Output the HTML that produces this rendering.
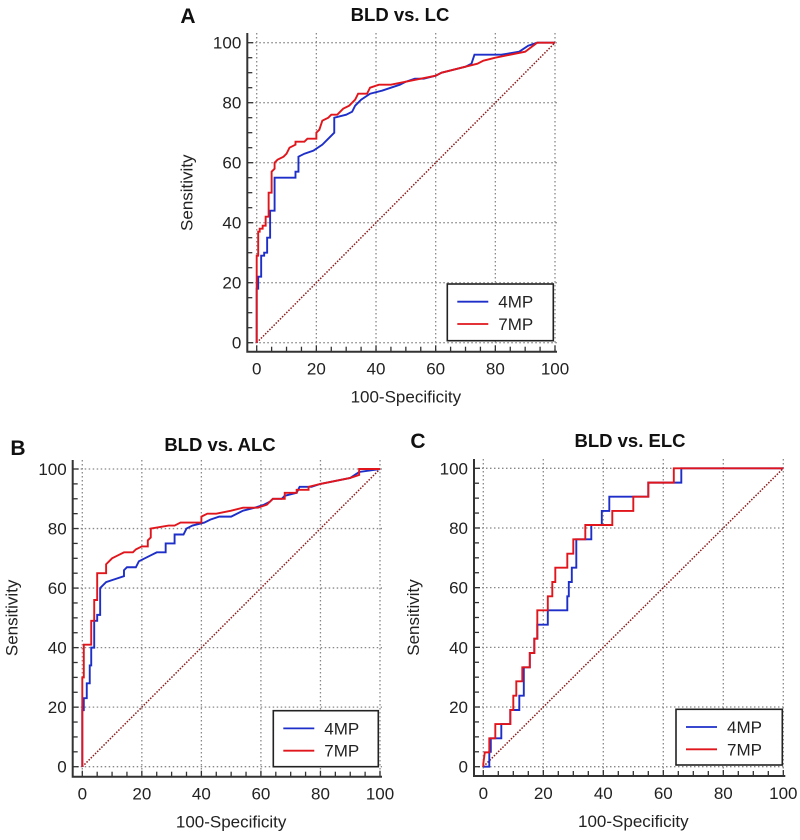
<!DOCTYPE html>
<html><head><meta charset="utf-8"><style>
body{margin:0;background:#fff;}
svg{display:block;font-family:"Liberation Sans",sans-serif;}
</style></head><body>
<svg id="fig" width="800" height="840" viewBox="0 0 800 840"></svg>
<script>
const ticks=[0,20,40,60,80,100];
const tickLabels=["0","20","40","60","80","100"];
const seriesNames=["4MP","7MP"];
const aBlue=[[0,0],[0,18],[0.5,18],[0.5,22],[1.5,22],[1.5,29],[2.5,29],[2.5,30],[3.5,30],[3.5,35],[4.5,35],[4.5,44],[6,44],[6,55],[13,55],[13,57],[14,57],[14,62],[16,63],[19,64],[22,66],[24,68],[26,70],[26,75],[30,76],[32,77],[33,79],[35,81],[38,83],[42,84],[45,85],[48,86],[50,87],[53,88],[56,88],[60,89],[62,90],[66,91],[70,92],[72,93],[73,96],[78,96],[82,96],[88,97],[91,99],[94,100],[100,100]];
const aRed=[[0,0],[0,29],[0.5,29],[0.5,37],[1,37],[1,38],[2,38],[2,39],[3,39],[3,42],[4,42],[4,50],[5,50],[5,57],[6,58],[6,60],[7,61],[9,62],[10,63],[11,65],[13,66],[13,67],[16,67],[17,68],[20,68],[20,70],[21,71],[22,74],[24,75],[25,76],[27,76],[29,78],[31,79],[33,81],[34,83],[37,83],[38,85],[41,86],[45,86],[50,87],[55,88],[60,89],[62,90],[66,91],[70,92],[74,93],[76,94],[80,95],[85,96],[90,97],[94,100],[100,100]];
const bBlue=[[0,0],[0,19],[0.5,19],[0.5,23],[1.5,23],[1.5,28],[2.5,28],[2.5,34],[3,34],[3,40],[4,40],[4,49],[5,49],[5,51],[6,51],[6,60],[7,61],[8,62],[11,63],[14,64],[14,66],[15,67],[18,67],[19,69],[21,70],[23,71],[25,72],[28,72],[28,75],[31,75],[31,78],[34,78],[35,80],[37,81],[41,82],[43,83],[46,84],[50,84],[54,86],[58,87],[61,88],[63,89],[64,90],[67,90],[68,91],[72,92],[73,94],[77,94],[80,95],[85,96],[90,97],[93,99],[100,100]];
const bRed=[[0,0],[0,30],[0.5,30],[0.5,41],[3,41],[3,49],[4,49],[4,56],[5,56],[5,65],[8,65],[8,68],[9,69],[10,70],[12,71],[14,72],[17,72],[18,73],[20,74],[22,74],[22,76],[23,77],[23,80],[29,81],[31,81],[33,82],[40,82],[40,84],[42,85],[45,85],[50,86],[54,87],[59,87],[62,88],[64,90],[68,90],[68,92],[72,92],[72,93],[76,93],[76,94],[80,95],[85,96],[90,97],[93,98],[93,100],[100,100]];
const cBlue=[[0,0],[2,0],[2,5],[2.5,5],[2.5,9.5],[6,9.5],[6,14.3],[9,14.3],[9,19],[12,19],[12,23.8],[13.5,23.8],[13.5,28.6],[13.5,33.3],[15.5,33.3],[15.5,38.1],[17,38.1],[17,42.9],[18,42.9],[18,47.6],[21.5,47.6],[21.5,52.4],[28,52.4],[28,57.1],[28.5,57.1],[28.5,61.9],[29.5,61.9],[29.5,66.7],[31,66.7],[31,76.2],[36,76.2],[36,81],[39.5,81],[39.5,85.7],[42,85.7],[42,90.5],[55,90.5],[55,95.2],[66,95.2],[66,100],[100,100]];
const cRed=[[0,0],[0,1],[0.5,4.8],[2,4.8],[2,9.5],[4,9.5],[4,14.3],[9,14.3],[9,19],[10,19],[10,23.8],[11,23.8],[11,28.6],[13,28.6],[13,33.3],[15.5,33.3],[15.5,38.1],[17,38.1],[17,42.9],[18,42.9],[18,52.4],[21.5,52.4],[21.5,57.1],[23,57.1],[23,61.9],[24,61.9],[24,66.7],[28,66.7],[28,71.4],[30,71.4],[30,76.2],[34,76.2],[34,81],[43,81],[43,85.7],[50,85.7],[50,90.5],[55,90.5],[55,95.2],[63.5,95.2],[63.5,100],[100,100]];

const NS="http://www.w3.org/2000/svg";
const svg=document.getElementById('fig');
function mk(tag,attrs,parent,text){const e=document.createElementNS(NS,tag);for(const k in attrs)e.setAttribute(k,attrs[k]);if(text!==undefined)e.textContent=text;(parent||svg).appendChild(e);return e;}

const panels=[
 {id:'a',letter:'A',title:'BLD vs. LC',x0:256.7,x1:555,y0:342.7,y1:42.7,axL:247.3,axB:351.7,axT:33,lx:188,ly:23,tx:400,ty:21,leg:[447.3,284,106,56.7],blue:aBlue,red:aRed},
 {id:'b',letter:'B',title:'BLD vs. ALC',x0:82.3,x1:380,y0:766.7,y1:469,axL:72.7,axB:776.7,axT:460,lx:18,ly:455,tx:220,ty:451,leg:[273.3,710.7,105,56],blue:bBlue,red:bRed},
 {id:'c',letter:'C',title:'BLD vs. ELC',x0:483.3,x1:783.3,y0:766.7,y1:468.3,axL:474,axB:776,axT:459,lx:418,ly:448,tx:630,ty:447,leg:[676,709.3,106.3,55.7],blue:cBlue,red:cRed}
];
panels.forEach(p=>{
  const g=mk('g',{});
  
  
  const X=v=>p.x0+(p.x1-p.x0)*v/100, Y=v=>p.y0+(p.y1-p.y0)*v/100;
  ticks.forEach(t=>{
    const gv=mk('line',{x1:X(t),x2:X(t),y1:p.axT,y2:p.axB,stroke:'#888','stroke-width':1.3,'stroke-dasharray':'1.5,2.5'},g);
    
    const gh=mk('line',{x1:p.axL,x2:X(100)+2,y1:Y(t),y2:Y(t),stroke:'#888','stroke-width':1.3,'stroke-dasharray':'1.5,2.5'},g);
    
  });
  const ax=mk('path',{d:`M${p.axL},${p.axT}V${p.axB}H${X(100)+2}`,fill:'none',stroke:'#333','stroke-width':2},g);
  
  for(let v=0;v<=100;v+=5){
    const len=v%20===0?6:5;
    mk('line',{x1:p.axL,x2:p.axL+len,y1:Y(v),y2:Y(v),stroke:'#333','stroke-width':1.3},g);
    mk('line',{x1:X(v),x2:X(v),y1:p.axB,y2:p.axB-len,stroke:'#333','stroke-width':1.3},g);
  }
  ticks.forEach((t,i)=>{
    const yl=mk('text',{x:p.axL-6,y:Y(t)+6,'text-anchor':'end','font-size':17,fill:'#222'},g,tickLabels[i]);
    
    const xl=mk('text',{x:X(t),y:p.axB+23,'text-anchor':'middle','font-size':17,fill:'#222'},g,tickLabels[i]);
    
  });
  const xt=mk('text',{x:(p.x0+p.x1)/2,y:p.axB+51,'text-anchor':'middle','font-size':17,fill:'#222'},g,'100-Specificity');
  
  const yc=(p.y0+p.y1)/2, yx=p.axL-55;
  const yt=mk('text',{x:yx,y:yc,'text-anchor':'middle','font-size':17,fill:'#222',transform:`rotate(-90 ${yx} ${yc})`},g,'Sensitivity');
  
  const ti=mk('text',{x:p.tx,y:p.ty,'text-anchor':'middle','font-size':18.5,'font-weight':'bold',fill:'#111'},g,p.title);
  
  const le=mk('text',{x:p.lx,y:p.ly,'text-anchor':'middle','font-size':21,'font-weight':'bold',fill:'#111'},g,p.letter);
  
  const dg=mk('line',{x1:X(0),y1:Y(0),x2:X(100),y2:Y(100),stroke:'#8b1a1a','stroke-width':1.5,'stroke-dasharray':'1.5,1.5'},g);
  
  [[p.blue,'#1d2fc8','4mp'],[p.red,'#e0161c','7mp']].forEach(([d,c,n])=>{
    const pl=mk('polyline',{points:d.map(q=>X(q[0])+','+Y(q[1])).join(' '),fill:'none',stroke:c,'stroke-width':1.9},g);
    
  });
  const [lx,ly,lw,lh]=p.leg;
  const lg=mk('g',{},g);
  
  mk('rect',{x:lx,y:ly,width:lw,height:lh,fill:'#fff',stroke:'#222','stroke-width':1.6},lg);
  [['#1d2fc8',seriesNames[0],17.7],['#e0161c',seriesNames[1],40]].forEach(([c,n,dy])=>{
    const e=mk('g',{},lg);
    
    mk('line',{x1:lx+10,x2:lx+41,y1:ly+dy,y2:ly+dy,stroke:c,'stroke-width':1.8},e);
    mk('text',{x:lx+51,y:ly+dy+6,'font-size':17,fill:'#222'},e,n);
  });
});
</script>
</body></html>
